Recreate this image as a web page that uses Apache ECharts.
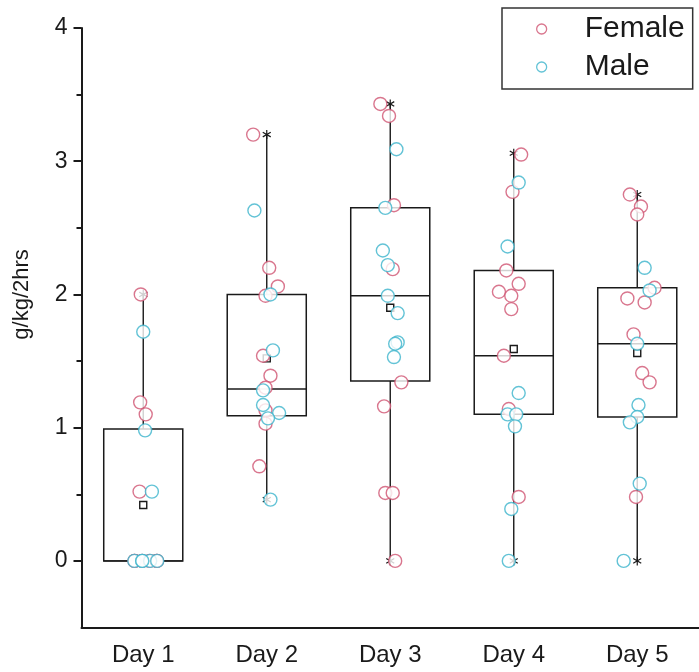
<!DOCTYPE html>
<html>
<head>
<meta charset="utf-8">
<script src="https://cdn.jsdelivr.net/npm/echarts@6/dist/echarts.min.js"></script>
<style>
  html, body { margin: 0; padding: 0; background: #fff; }
  #chart { width: 699px; height: 672px; }
</style>
</head>
<body>
<div id="chart"></div>
<script>
// Intake per session, g/kg over 2 hours
const days = ['Day 1', 'Day 2', 'Day 3', 'Day 4', 'Day 5'];
const yTicks = [0, 1, 2, 3, 4];
const yMinorTicks = [0.5, 1.5, 2.5, 3.5];

// Individual animals; jitter is the horizontal spread in category units
const femaleValues = [
  [2.0, 1.19, 1.10, 0.52, 0, 0, 0, 0, 0, 0],
  [3.2, 2.20, 2.06, 1.99, 1.54, 1.39, 1.30, 1.13, 1.03, 0.71],
  [3.43, 3.34, 2.67, 2.19, 1.34, 1.16, 0.51, 0.51, 0],
  [3.05, 2.77, 2.18, 2.08, 2.02, 1.99, 1.89, 1.54, 1.14, 0.48],
  [2.75, 2.66, 2.60, 2.05, 1.97, 1.94, 1.70, 1.41, 1.34, 0.48]
];
const femaleJitter = [
  [-0.02, -0.025, 0.02, -0.03, -0.07, -0.01, 0.05, 0.11, -0.07, 0.11],
  [-0.11, 0.02, 0.09, -0.01, -0.03, 0.03, -0.01, -0.01, -0.01, -0.06],
  [-0.08, -0.01, 0.03, 0.02, 0.09, -0.05, -0.04, 0.02, 0.04],
  [0.06, -0.01, -0.06, 0.04, -0.12, -0.02, -0.02, -0.08, -0.04, 0.04],
  [-0.06, 0.03, 0.0, 0.14, -0.08, 0.06, -0.03, 0.04, 0.10, -0.01]
];
const maleValues = [
  [1.72, 0.98, 0.52, 0, 0, 0, 0, 0],
  [2.63, 2.00, 1.58, 1.28, 1.17, 1.11, 1.07, 0.46],
  [3.09, 2.65, 2.33, 2.22, 1.99, 1.86, 1.64, 1.63, 1.53],
  [2.84, 2.36, 1.26, 1.10, 1.10, 1.01, 0.39, 0],
  [2.20, 2.03, 1.63, 1.17, 1.08, 1.04, 0.58, 0]
];
const maleJitter = [
  [0.0, 0.015, 0.07, -0.072, -0.008, 0.056, 0.113, -0.008],
  [-0.10, 0.03, 0.05, -0.03, -0.03, 0.10, 0.01, 0.03],
  [0.05, -0.04, -0.06, -0.02, -0.02, 0.06, 0.06, 0.04, 0.03],
  [0.04, -0.05, 0.04, -0.05, 0.02, 0.01, -0.02, -0.04],
  [0.06, 0.10, 0.0, 0.01, 0.0, -0.06, 0.02, -0.11]
];

// Box summary per day
const boxMin    = [0,    0.46, 0,    0,    0];
const boxQ1     = [0,    1.09, 1.35, 1.10, 1.08];
const boxMedian = [0,    1.29, 1.99, 1.54, 1.63];
const boxQ3     = [0.99, 2.00, 2.65, 2.18, 2.05];
const boxMax    = [2.0,  3.20, 3.43, 3.06, 2.75];
const boxMean   = [0.42, 1.52, 1.90, 1.59, 1.56];

const femaleColor = '#cf5472';
const maleColor = '#3cb4cc';
const ink = '#1a1a1a';
const font = 'Liberation Sans, Arial, sans-serif';

function points(values, jitter) {
  const out = [];
  values.forEach((list, d) => {
    list.forEach((v, i) => out.push([d + 1 + jitter[d][i], v]));
  });
  return out;
}

const boxData = days.map((_, i) => [i, boxMin[i], boxQ1[i], boxMedian[i], boxQ3[i], boxMax[i], boxMean[i]]);

const starPath = 'M0,-4.5L0,4.5M-4,-2.3L4,2.3M-4,2.3L4,-2.3';

function renderBox(params, api) {
  const idx = api.value(0);
  const halfW = api.size([1, 0])[0] * 0.32;
  const pMin = api.coord([idx, api.value(1)]);
  const pQ1 = api.coord([idx, api.value(2)]);
  const pMed = api.coord([idx, api.value(3)]);
  const pQ3 = api.coord([idx, api.value(4)]);
  const pMax = api.coord([idx, api.value(5)]);
  const pMean = api.coord([idx, api.value(6)]);
  const x = pMed[0];
  const line = { stroke: ink, lineWidth: 1.4, fill: null };
  const children = [
    { type: 'line', shape: { x1: x, y1: pQ3[1], x2: x, y2: pMax[1] }, style: line },
    { type: 'line', shape: { x1: x, y1: pQ1[1], x2: x, y2: pMin[1] }, style: line },
    { type: 'rect', shape: { x: x - halfW, y: pQ3[1], width: halfW * 2, height: pQ1[1] - pQ3[1] },
      style: { stroke: ink, lineWidth: 1.5, fill: 'rgba(0,0,0,0)' } },
    { type: 'line', shape: { x1: x - halfW, y1: pMed[1], x2: x + halfW, y2: pMed[1] }, style: line },
    { type: 'rect', shape: { x: pMean[0] - 3.5, y: pMean[1] - 3.5, width: 7, height: 7 },
      style: { stroke: ink, lineWidth: 1.4, fill: '#fff' } },
    { type: 'path', x: x, y: pMax[1], shape: { pathData: starPath }, style: { stroke: ink, lineWidth: 1.2, fill: null } },
    { type: 'path', x: x, y: pMin[1], shape: { pathData: starPath }, style: { stroke: ink, lineWidth: 1.2, fill: null } }
  ];
  return { type: 'group', children: children };
}

const chart = echarts.init(document.getElementById('chart'), null, { renderer: 'canvas' });

const option = {
  animation: false,
  backgroundColor: '#fff',
  grid: { left: 81.5, top: 28, width: 622, height: 599.5, containLabel: false },
  legend: {
    orient: 'vertical',
    left: 502,
    top: 8,
    padding: [6, 8, 7, 34],
    itemGap: 8,
    itemWidth: 10,
    itemHeight: 10,
    borderColor: '#333',
    borderWidth: 1.5,
    textStyle: { fontSize: 30, fontFamily: font, color: ink, padding: [0, 0, 0, 33] },
    data: [
      { name: 'Female', icon: 'circle', itemStyle: { color: '#fff', borderColor: femaleColor, borderWidth: 1.3 } },
      { name: 'Male', icon: 'circle', itemStyle: { color: '#fff', borderColor: maleColor, borderWidth: 1.3 } }
    ]
  },
  xAxis: [
    {
      type: 'category',
      data: days,
      boundaryGap: true,
      axisLine: { onZero: false, lineStyle: { color: ink, width: 2 } },
      axisTick: { alignWithLabel: true, length: 8, lineStyle: { color: ink, width: 2 } },
      axisLabel: { fontSize: 24, fontFamily: font, color: ink, margin: 16 },
      splitLine: { show: false }
    },
    {
      type: 'value',
      min: 0.5,
      max: 5.5,
      show: false
    }
  ],
  yAxis: [
    {
      type: 'value',
      min: -0.5,
      max: 4,
      axisLine: { show: true, onZero: false, lineStyle: { color: ink, width: 2 } },
      axisTick: { show: true, length: 8, customValues: yTicks, lineStyle: { color: ink, width: 2 } },
      axisLabel: { fontSize: 23, fontFamily: font, color: ink, margin: 14, customValues: yTicks },
      splitLine: { show: false }
    },
    {
      type: 'value',
      min: -0.5,
      max: 4,
      position: 'left',
      axisLine: { show: false },
      axisTick: { show: true, length: 5, customValues: yMinorTicks, lineStyle: { color: ink, width: 2 } },
      axisLabel: { show: false },
      splitLine: { show: false }
    }
  ],
  series: [
    {
      type: 'custom',
      name: 'box',
      xAxisIndex: 0,
      yAxisIndex: 0,
      renderItem: renderBox,
      data: boxData,
      z: 1,
      silent: true
    },
    {
      type: 'scatter',
      name: 'Female',
      xAxisIndex: 1,
      yAxisIndex: 0,
      symbol: 'circle',
      symbolSize: 13,
      itemStyle: { color: '#fff', borderColor: femaleColor, borderWidth: 1.4 },
      data: points(femaleValues, femaleJitter),
      z: 3
    },
    {
      type: 'scatter',
      name: 'Male',
      xAxisIndex: 1,
      yAxisIndex: 0,
      symbol: 'circle',
      symbolSize: 13,
      itemStyle: { color: '#fff', borderColor: maleColor, borderWidth: 1.4 },
      data: points(maleValues, maleJitter),
      z: 4
    }
  ]
};

chart.setOption(option);

// Y-axis title, centred on the labelled range 0..4
const titleY = chart.convertToPixel({ yAxisIndex: 0 }, 2);
chart.setOption({
  graphic: [{
    type: 'text',
    x: 22,
    y: titleY,
    rotation: Math.PI / 2,
    style: {
      text: 'g/kg/2hrs',
      fontSize: 22,
      fontFamily: font,
      fill: ink,
      align: 'center',
      verticalAlign: 'middle'
    }
  }]
});
</script>
</body>
</html>
